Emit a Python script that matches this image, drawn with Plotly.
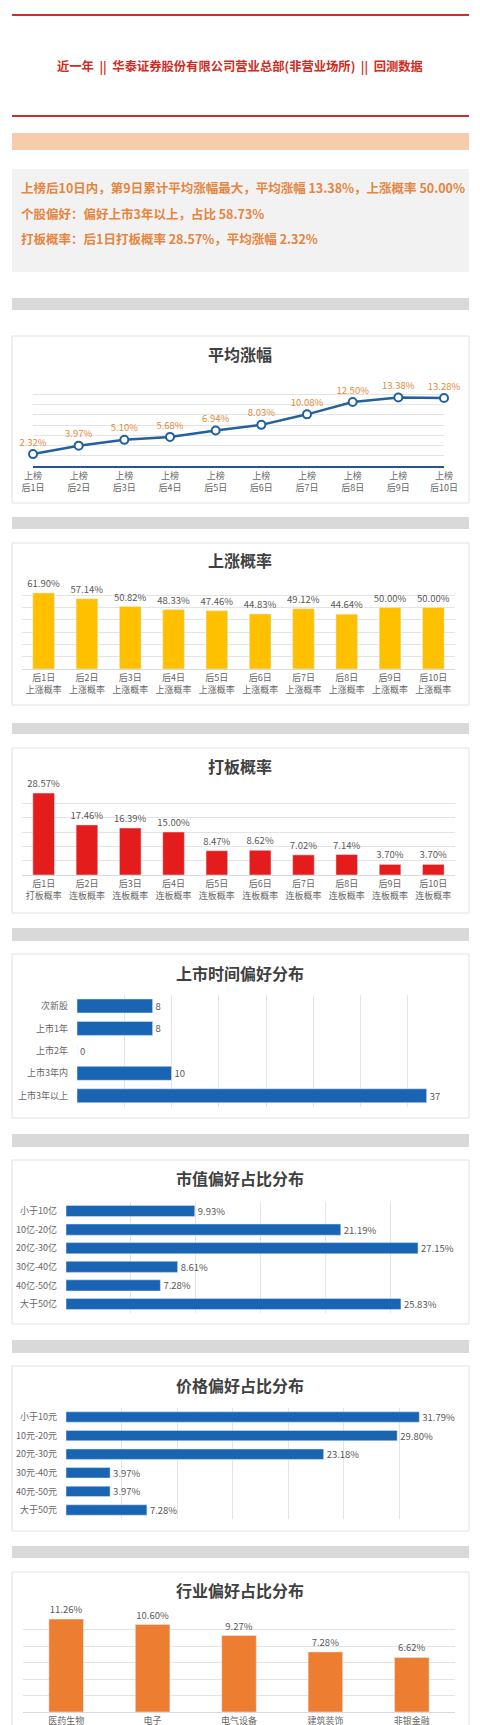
import plotly.graph_objects as go

W, H = 480, 1725
FONT = "Noto Sans CJK SC"

# ---- data ----
avg_labels = ["上榜<br>后1日", "上榜<br>后2日", "上榜<br>后3日", "上榜<br>后4日", "上榜<br>后5日",
              "上榜<br>后6日", "上榜<br>后7日", "上榜<br>后8日", "上榜<br>后9日", "上榜<br>后10日"]
avg_gain = [2.32, 3.97, 5.10, 5.68, 6.94, 8.03, 10.08, 12.50, 13.38, 13.28]

up_labels = ["后1日<br>上涨概率", "后2日<br>上涨概率", "后3日<br>上涨概率", "后4日<br>上涨概率", "后5日<br>上涨概率",
             "后6日<br>上涨概率", "后7日<br>上涨概率", "后8日<br>上涨概率", "后9日<br>上涨概率", "后10日<br>上涨概率"]
up_prob = [61.90, 57.14, 50.82, 48.33, 47.46, 44.83, 49.12, 44.64, 50.00, 50.00]

board_labels = ["后1日<br>打板概率", "后2日<br>连板概率", "后3日<br>连板概率", "后4日<br>连板概率", "后5日<br>连板概率",
                "后6日<br>连板概率", "后7日<br>连板概率", "后8日<br>连板概率", "后9日<br>连板概率", "后10日<br>连板概率"]
board_prob = [28.57, 17.46, 16.39, 15.00, 8.47, 8.62, 7.02, 7.14, 3.70, 3.70]

listing_cats = ["次新股", "上市1年", "上市2年", "上市3年内", "上市3年以上"]
listing_counts = [8, 8, 0, 10, 37]

cap_cats = ["小于10亿", "10亿-20亿", "20亿-30亿", "30亿-40亿", "40亿-50亿", "大于50亿"]
cap_pct = [9.93, 21.19, 27.15, 8.61, 7.28, 25.83]

price_cats = ["小于10元", "10元-20元", "20元-30元", "30元-40元", "40元-50元", "大于50元"]
price_pct = [31.79, 29.80, 23.18, 3.97, 3.97, 7.28]

industry_cats = ["医药生物", "电子", "电气设备", "建筑装饰", "非银金融"]
industry_pct = [11.26, 10.60, 9.27, 7.28, 6.62]

header = "近一年  ||  华泰证券股份有限公司营业总部(非营业场所)  ||  回测数据"
summary = [
    "上榜后10日内，第9日累计平均涨幅最大，平均涨幅 13.38%，上涨概率 50.00%",
    "个股偏好：偏好上市3年以上，占比 58.73%",
    "打板概率：后1日打板概率 28.57%，平均涨幅 2.32%",
]


def xd(a, b):
    return [a / W, b / W]


def yd(top, bottom):
    return [1 - bottom / H, 1 - top / H]


shapes = []
annotations = []


def rect(x0, top, x1, bottom, fill, line=None):
    shapes.append(dict(type="rect", xref="paper", yref="paper", x0=x0 / W, x1=x1 / W,
                       y0=1 - bottom / H, y1=1 - top / H, fillcolor=fill,
                       line=dict(color=line or fill, width=1 if line else 0), layer="below"))


def hline(x0, x1, y, color, width):
    shapes.append(dict(type="line", xref="paper", yref="paper", x0=x0 / W, x1=x1 / W,
                       y0=1 - y / H, y1=1 - y / H, line=dict(color=color, width=width)))


def text(x, y, s, size, color, xanchor="center"):
    annotations.append(dict(xref="paper", yref="paper", x=x / W, y=1 - y / H, text=s,
                            showarrow=False, xanchor=xanchor, yanchor="middle",
                            font=dict(size=size, color=color, family=FONT)))


# header
hline(12, 469, 15, "#c8302c", 2)
text(240, 66, "<b>" + header + "</b>", 12.3, "#d22b22")
hline(12, 469, 116, "#c8302c", 2)
rect(12, 133, 469, 150, "#f8cbad")

# summary box
rect(12, 169, 469, 272, "#f2f2f2")
for i, s in enumerate(summary):
    text(19, 188 + i * 25.5, "<b>" + s + "</b>", 12.5, "#e5853f", xanchor="left")

# grey separators
for top, bottom in [(298, 310), (517, 529), (723, 734), (928, 941), (1134, 1147), (1340, 1353), (1546, 1558)]:
    rect(12, top, 469, bottom, "#d9d9d9")

# cards
cards = [(336, 503, "平均涨幅", 354), (543, 705, "上涨概率", 560), (748, 913, "打板概率", 766),
         (954, 1118, "上市时间偏好分布", 973), (1160, 1324, "市值偏好占比分布", 1178),
         (1366, 1531, "价格偏好占比分布", 1385), (1572, 1740, "行业偏好占比分布", 1590)]
for top, bottom, title, ty in cards:
    rect(12, top, 469, bottom, "#ffffff", "#e2e2e2")
    text(240, ty, "<b>" + title + "</b>", 16, "#404040")

GRID = "#e4e4e4"
TICK = dict(size=9, color="#666666", family=FONT)
LBL = dict(size=9.5, color="#595959", family=FONT)

fig = go.Figure()

# 1. average gain line
fig.add_trace(go.Scatter(
    x=avg_labels, y=avg_gain, mode="lines+markers+text",
    text=[f"{v:.2f}%" for v in avg_gain], textposition="top center",
    textfont=dict(size=9.5, color="#e3893b", family=FONT),
    line=dict(color="#23619e", width=2.5),
    marker=dict(size=8, color="white", line=dict(color="#23619e", width=2)),
    cliponaxis=False, xaxis="x", yaxis="y",
))

# 2. up probability
fig.add_trace(go.Bar(
    x=up_labels, y=up_prob, width=0.5, marker_color="#ffc000",
    text=[f"{v:.2f}%" for v in up_prob], textposition="outside", textfont=LBL,
    constraintext="none", cliponaxis=False, xaxis="x2", yaxis="y2",
))

# 3. board probability
fig.add_trace(go.Bar(
    x=board_labels, y=board_prob, width=0.5, marker_color="#e51c1c",
    text=[f"{v:.2f}%" for v in board_prob], textposition="outside", textfont=LBL,
    constraintext="none", cliponaxis=False, xaxis="x3", yaxis="y3",
))

# 4. listing time
fig.add_trace(go.Bar(
    x=listing_counts, y=listing_cats, orientation="h", width=0.62, marker_color="#1a64b4",
    text=[str(v) for v in listing_counts], textposition="outside", textfont=LBL,
    constraintext="none", cliponaxis=False, xaxis="x4", yaxis="y4",
))

# 5. market cap
fig.add_trace(go.Bar(
    x=cap_pct, y=cap_cats, orientation="h", width=0.6, marker_color="#1a64b4",
    text=[f"{v:.2f}%" for v in cap_pct], textposition="outside", textfont=LBL,
    constraintext="none", cliponaxis=False, xaxis="x5", yaxis="y5",
))

# 6. price
fig.add_trace(go.Bar(
    x=price_pct, y=price_cats, orientation="h", width=0.56, marker_color="#1a64b4",
    text=[f"{v:.2f}%" for v in price_pct], textposition="outside", textfont=LBL,
    constraintext="none", cliponaxis=False, xaxis="x6", yaxis="y6",
))

# 7. industry
fig.add_trace(go.Bar(
    x=industry_cats, y=industry_pct, width=0.4, marker_color="#ed7d31",
    text=[f"{v:.2f}%" for v in industry_pct], textposition="outside", textfont=LBL,
    constraintext="none", cliponaxis=False, xaxis="x7", yaxis="y7",
))


def cat_x(domain, anchor, rng=None, line="#d9d9d9", lw=1):
    d = dict(domain=domain, anchor=anchor, type="category", showgrid=False, showline=True,
             linecolor=line, linewidth=lw, tickfont=TICK, fixedrange=True, ticks="",
             tickangle=0, automargin=False)
    if rng:
        d["range"] = rng
    return d


def val_y(domain, anchor, rng, dtick):
    return dict(domain=domain, anchor=anchor, range=rng, dtick=dtick, showgrid=True,
                gridcolor=GRID, gridwidth=1, showticklabels=False, zeroline=False,
                fixedrange=True, automargin=False)


def val_x(domain, anchor, rng):
    return dict(domain=domain, anchor=anchor, range=rng, dtick=5, showgrid=True,
                gridcolor=GRID, gridwidth=1, showticklabels=False, zeroline=False,
                fixedrange=True, automargin=False)


def cat_y(domain, anchor):
    return dict(domain=domain, anchor=anchor, type="category", autorange="reversed",
                showgrid=False, showline=False, tickfont=TICK, ticklabelstandoff=8,
                fixedrange=True, automargin=False)


fig.update_layout(
    width=W, height=H, margin=dict(l=0, r=0, t=0, b=0, autoexpand=False),
    paper_bgcolor="white", plot_bgcolor="rgba(0,0,0,0)", showlegend=False,
    font=dict(family=FONT), shapes=shapes, annotations=annotations,
    xaxis=cat_x(xd(33, 444), "y", rng=[0, 9], line="#23578a", lw=2),
    yaxis=val_y(yd(384, 466), "x", [0, 16], 2),
    xaxis2=cat_x(xd(22, 455), "y2"),
    yaxis2=val_y(yd(583, 669), "x2", [0, 70], 10),
    xaxis3=cat_x(xd(22, 455), "y3"),
    yaxis3=val_y(yd(789, 875), "x3", [0, 30], 5),
    xaxis4=val_x(xd(77, 455), "y4", [0, 40]),
    yaxis4=cat_y(yd(994.75, 1107), "x4"),
    xaxis5=val_x(xd(66, 455), "y5", [0, 30]),
    yaxis5=cat_y(yd(1201.7, 1313.3), "x5"),
    xaxis6=val_x(xd(66, 455), "y6", [0, 35]),
    yaxis6=cat_y(yd(1407.7, 1519.3), "x6"),
    xaxis7=cat_x(xd(23, 455), "y7"),
    yaxis7=val_y(yd(1613, 1712), "x7", [0, 12], 2),
)

fig.write_html("out.html", config={"displayModeBar": False},
               post_script="document.body.style.margin='0';")
